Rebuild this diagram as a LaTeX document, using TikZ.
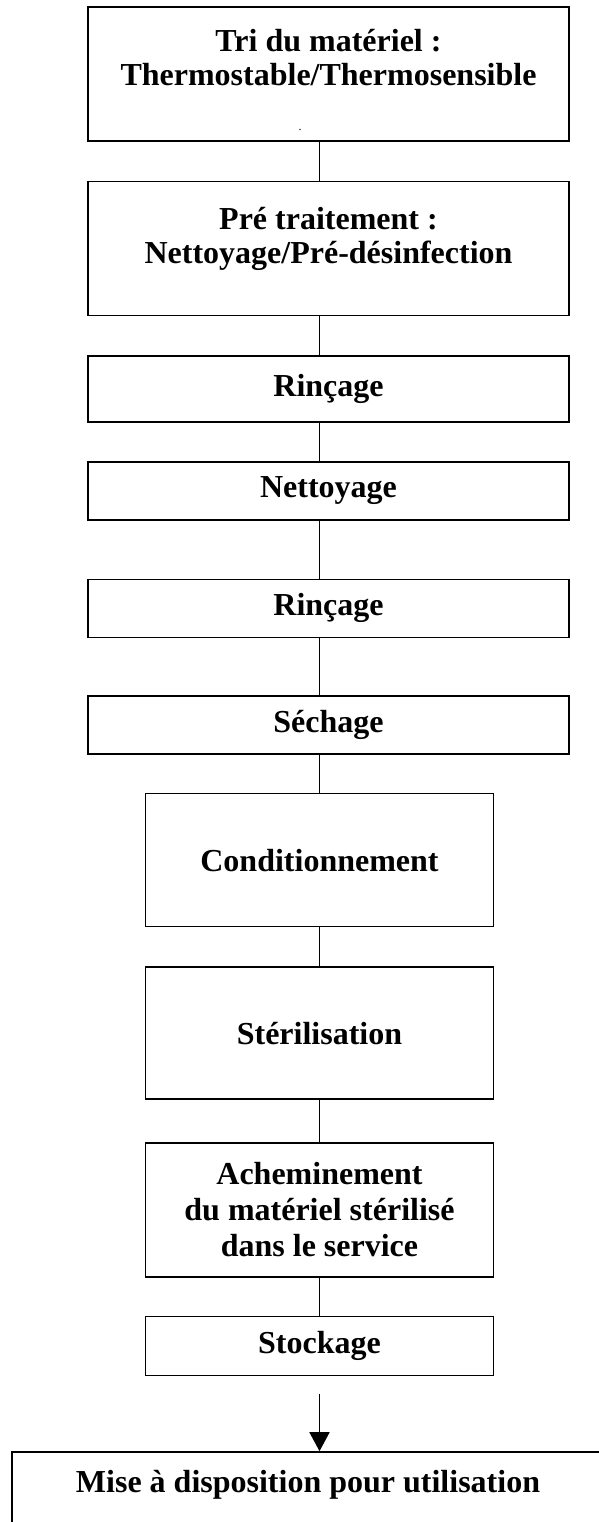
\documentclass[tikz,border=0pt]{standalone}
\usepackage{fontspec}
\setmainfont{Liberation Serif}
\usetikzlibrary{positioning, arrows.meta}
\tikzset{
    stepbox/.style={rectangle, draw=black, line width=1.6pt, inner sep=0pt, align=center, font=\bfseries\fontsize{32}{36}\selectfont},
    widebox/.style={stepbox, minimum width=481pt},
    narrowbox/.style={stepbox, minimum width=348pt},
    steptext/.style={inner sep=0pt, align=center, font=\bfseries\fontsize{32}{34}\selectfont},
    link/.style={line width=1.6pt, draw=black},
    arrow/.style={link, -{Triangle[width=20pt, length=19pt]}}
}

\begin{document}
\begin{tikzpicture}[x=1pt, y=1pt]
    \useasboundingbox (0,0) rectangle (598,-1522);
    \coordinate (axis) at (319.5,0);

    % --- Tri et pré-traitement ---
    \node[widebox, minimum height=134pt] (tri) at (328.5,-74) {};
    \node[steptext, yshift=16pt] (tritxt) at (tri) {Tri du matériel :\\Thermostable/Thermosensible};
    \node[inner sep=0pt, font=\fontsize{12}{12}\selectfont] (tridot) at (300,-130) {.};
    \node[widebox, minimum height=134pt, below=39pt of tri] (pre) {};
    \node[steptext, yshift=10pt] (pretxt) at (pre) {Pré traitement :\\Nettoyage/Pré-désinfection};

    % --- Lavage ---
    \node[widebox, minimum height=66pt, below=39pt of pre] (rinc1) {Rinçage};
    \node[widebox, minimum height=58pt, below=38pt of rinc1] (nett) {Nettoyage};
    \node[widebox, minimum height=58pt, below=58pt of nett] (rinc2) {Rinçage};
    \node[widebox, minimum height=58pt, below=57pt of rinc2] (sech) {Séchage};

    % --- Conditionnement et stérilisation ---
    \node[narrowbox, minimum height=133pt, below=38pt of sech, xshift=-9pt] (cond) {Conditionnement};
    \node[narrowbox, minimum height=132pt, below=39pt of cond] (ster) {Stérilisation};
    \node[narrowbox, minimum height=134pt, below=42pt of ster] (achem) {Acheminement\\du matériel stérilisé\\dans le service};
    \node[narrowbox, minimum height=59pt, below=38pt of achem] (stock) {Stockage};

    % --- Mise à disposition ---
    \node[stepbox, minimum width=592pt, minimum height=100pt, below=75pt of stock, xshift=-11.5pt] (mise) {};
    \node[steptext, below=19pt of mise.north] (misetxt) {Mise à disposition pour utilisation};

    % --- Liaisons ---
    \draw[link] (tri.south -| axis) -- (pre.north -| axis);
    \draw[link] (pre.south -| axis) -- (rinc1.north -| axis);
    \draw[link] (rinc1.south -| axis) -- (nett.north -| axis);
    \draw[link] (nett.south -| axis) -- (rinc2.north -| axis);
    \draw[link] (rinc2.south -| axis) -- (sech.north -| axis);
    \draw[link] (sech.south -| axis) -- (cond.north);
    \draw[link] (cond.south) -- (ster.north);
    \draw[link] (ster.south) -- (achem.north);
    \draw[link] (achem.south) -- (stock.north);
    \coordinate[below=18pt of stock] (arrstart);
    \draw[arrow] (arrstart) -- (mise.north -| arrstart);
\end{tikzpicture}
\end{document}
